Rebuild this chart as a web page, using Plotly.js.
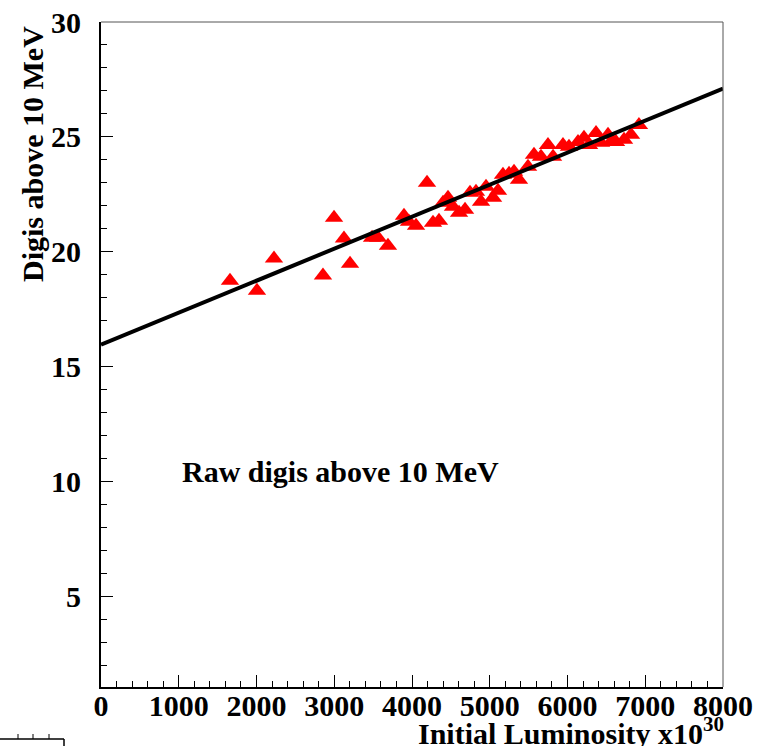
<!DOCTYPE html>
<html>
<head>
<meta charset="utf-8">
<script src="https://cdn.plot.ly/plotly-3.0.1.min.js"></script>
<style>html,body{margin:0;padding:0;background:#fff;}#chart{width:757px;height:746px;}</style>
</head>
<body>
<div id="chart"></div>
<script>
// Measured points: initial luminosity (x10^30) vs raw digis above 10 MeV
var luminosity = [1659, 2006, 2225, 2855, 2997, 3125, 3203, 3486, 3563, 3691,
  3897, 3961, 4052, 4193, 4270, 4347, 4399, 4463, 4527, 4605,
  4682, 4746, 4823, 4888, 4952, 5042, 5106, 5170, 5248, 5312,
  5376, 5492, 5569, 5659, 5749, 5814, 5942, 6019, 6135, 6212,
  6277, 6367, 6431, 6521, 6560, 6624, 6727, 6817, 6919];
var digis = [18.74, 18.30, 19.70, 18.96, 21.48, 20.57, 19.48, 20.61, 20.61, 20.26,
  21.57, 21.30, 21.13, 23.00, 21.26, 21.35, 22.13, 22.35, 21.96, 21.70,
  21.83, 22.57, 22.61, 22.17, 22.83, 22.35, 22.65, 23.35, 23.39, 23.48,
  23.13, 23.70, 24.22, 24.13, 24.65, 24.13, 24.65, 24.57, 24.78, 24.96,
  24.65, 25.17, 24.74, 25.09, 24.80, 24.78, 24.87, 25.09, 25.52];
// Linear fit drawn across the axis range
var fitX = [0, 8000];
var fitY = [15.95, 27.10];
var xTickVals = [0, 1000, 2000, 3000, 4000, 5000, 6000, 7000, 8000];
var yTickVals = [5, 10, 15, 20, 25, 30];

var FONT = 'Liberation Serif, Times New Roman, serif';
var L = 101, B = 687, PW = 622, PH = 665;
function px(x){ return (x - L) / PW; }
function py(y){ return (B - y) / PH; }

var traces = [
  {x: luminosity, y: digis, type: 'scatter', mode: 'markers',
   marker: {symbol: 'triangle-up', size: 16, color: '#ff0000', line: {width: 0}},
   hoverinfo: 'x+y', showlegend: false, cliponaxis: false},
  {x: fitX, y: fitY, type: 'scatter', mode: 'lines',
   line: {color: '#000000', width: 4}, showlegend: false}
];

var shapes = [
  {type: 'line', xref: 'paper', yref: 'paper', x0: 0, x1: 1, y0: 1, y1: 1, line: {color: '#555', width: 1}},
  {type: 'line', xref: 'paper', yref: 'paper', x0: 1, x1: 1, y0: 0, y1: 1, line: {color: '#555', width: 1}},
  // fragment of a neighbouring frame at bottom-left corner
  {type: 'line', xref: 'paper', yref: 'paper', x0: px(0), x1: px(64), y0: py(739), y1: py(739), line: {color: '#000', width: 1.5}},
  {type: 'line', xref: 'paper', yref: 'paper', x0: px(64), x1: px(64), y0: py(739), y1: py(750), line: {color: '#000', width: 1.5}},
  {type: 'line', xref: 'paper', yref: 'paper', x0: px(18), x1: px(18), y0: py(739), y1: py(734), line: {color: '#000', width: 1}},
  {type: 'line', xref: 'paper', yref: 'paper', x0: px(33), x1: px(33), y0: py(739), y1: py(734), line: {color: '#000', width: 1}},
  {type: 'line', xref: 'paper', yref: 'paper', x0: px(49), x1: px(49), y0: py(739), y1: py(734), line: {color: '#000', width: 1}}
];

var layout = {
  width: 757, height: 746,
  margin: {l: L, r: 757 - L - PW, t: 22, b: 746 - B},
  paper_bgcolor: '#ffffff', plot_bgcolor: '#ffffff',
  font: {family: FONT, color: '#000', size: 30},
  showlegend: false,
  xaxis: {
    range: [0, 8000], tickvals: xTickVals, ticktext: xTickVals.map(String),
    ticks: 'inside', ticklen: 12, tickwidth: 1, tickcolor: '#000',
    minor: {dtick: 200, ticks: 'inside', ticklen: 6, tickwidth: 1, tickcolor: '#000'},
    showgrid: false, zeroline: false, showline: true, linecolor: '#000', linewidth: 2,
    tickfont: {family: FONT, size: 30, weight: 'bold', color: '#000'},
    ticklabelstandoff: -9
  },
  yaxis: {
    range: [1.05, 30], tickvals: yTickVals, ticktext: yTickVals.map(String),
    ticks: 'inside', ticklen: 12, tickwidth: 1, tickcolor: '#000',
    minor: {dtick: 1, ticks: 'inside', ticklen: 6, tickwidth: 1, tickcolor: '#000'},
    showgrid: false, zeroline: false, showline: true, linecolor: '#000', linewidth: 2,
    tickfont: {family: FONT, size: 30, weight: 'bold', color: '#000'},
    ticklabelstandoff: 12
  },
  shapes: shapes,
  annotations: [
    {text: '<b>Raw digis above 10 MeV</b>', xref: 'x', yref: 'y', x: 1016, y: 10.43,
     xanchor: 'left', yanchor: 'middle', showarrow: false,
     font: {family: FONT, size: 30, color: '#000'}},
    {text: '<b>Digis above 10 MeV</b>', xref: 'paper', yref: 'paper', x: px(32), y: py(24),
     xanchor: 'center', yanchor: 'top', textangle: -90, showarrow: false,
     font: {family: FONT, size: 30, color: '#000'}},
    {text: '<b>Initial Luminosity x10<sup>30</sup></b>', xref: 'paper', yref: 'paper', x: px(726), y: py(731),
     xanchor: 'right', yanchor: 'middle', showarrow: false,
     font: {family: FONT, size: 30, color: '#000'}}
  ]
};

Plotly.newPlot('chart', traces, layout, {displayModeBar: false, staticPlot: true});
</script>
</body>
</html>
